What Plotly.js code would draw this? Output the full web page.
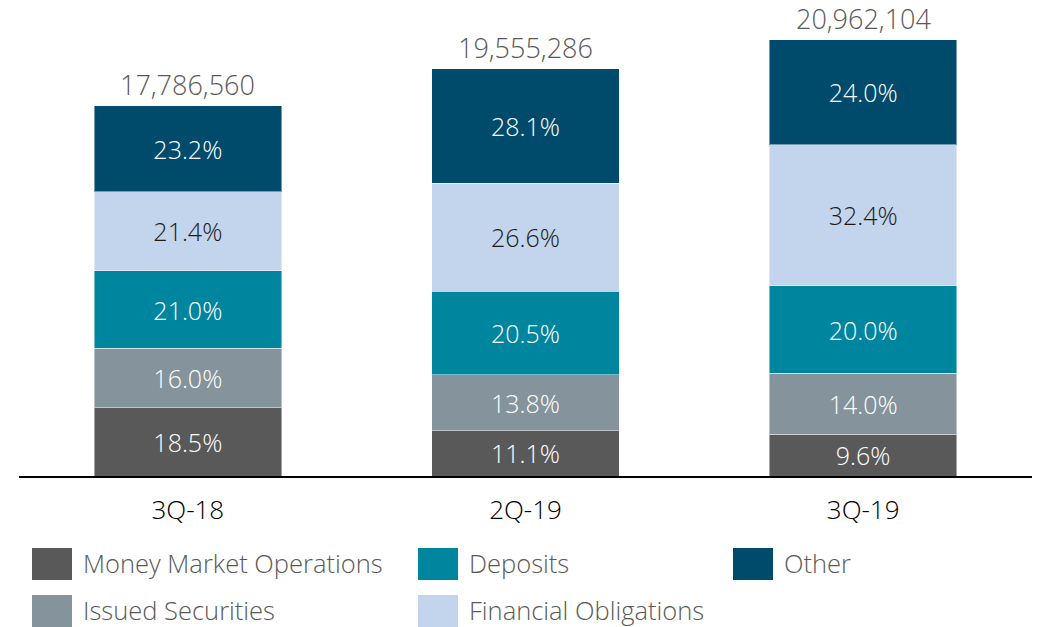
<!DOCTYPE html>
<html>
<head>
<meta charset="utf-8">
<script src="https://cdn.plot.ly/plotly-3.0.1.min.js"></script>
<style>
html,body{margin:0;padding:0;background:#fff;}
#chart{width:1043px;height:627px;}
</style>
</head>
<body>
<div id="chart"></div>
<script>
// ---- data ----
const periods = ["3Q-18", "2Q-19", "3Q-19"];
const totals = [17786560, 19555286, 20962104];
const seriesNames = ["Money Market Operations", "Issued Securities", "Deposits", "Financial Obligations", "Other"];
const moneyMarketPct = [18.5, 11.1, 9.6];
const issuedSecuritiesPct = [16.0, 13.8, 14.0];
const depositsPct = [21.0, 20.5, 20.0];
const financialObligationsPct = [21.4, 26.6, 32.4];
const otherPct = [23.2, 28.1, 24.0];

// ---- styles ----
const colors = ["#595959", "#84939C", "#00859F", "#C3D5EC", "#004B6B"];
const textColors = ["#ffffff", "#ffffff", "#ffffff", "#1a1a1a", "#ffffff"];
const FONT = "Open Sans, Noto Sans, sans-serif";
const W = 1043, H = 627;
const margin = {l: 19, r: 11, t: 0, b: 151};
const plotH = H - margin.t - margin.b;
const plotW = W - margin.l - margin.r;
const pxPerUnit = 20.80e-6;
const yMax = plotH / pxPerUnit;

const pctSeries = [moneyMarketPct, issuedSecuritiesPct, depositsPct, financialObligationsPct, otherPct];

const traces = pctSeries.map((pcts, i) => ({
  type: "bar",
  name: seriesNames[i],
  x: periods,
  y: pcts.map((p, j) => totals[j] * p / 100),
  text: pcts.map(p => p.toFixed(1) + "%"),
  textposition: "inside",
  insidetextanchor: "middle",
  textangle: 0,
  constraintext: "none",
  textfont: {family: FONT, size: 25, color: textColors[i], weight: 300},
  marker: {color: colors[i], line: {color: "rgba(255,255,255,0.45)", width: 1}},
  width: 0.555,
  hoverinfo: "skip",
  showlegend: false
}));

const annotations = periods.map((p, j) => ({
  x: p, y: totals[j], xref: "x", yref: "y",
  text: totals[j].toLocaleString("en-US"),
  showarrow: false, yanchor: "bottom", yshift: 2, borderpad: 0,
  font: {family: FONT, size: 27, color: "#595959", weight: 300}
}));

// manual legend (pixel layout -> paper coords)
const px2x = px => (px - margin.l) / plotW;
const px2y = py => (H - margin.b - py) / plotH;
const legendOrder = [0, 2, 4, 1, 3];
const colX = [32, 418, 733];
const rowY = [548, 595];
const shapes = [];
legendOrder.forEach((si, k) => {
  const c = k % 3, r = Math.floor(k / 3);
  const x0 = colX[c], y0 = rowY[r];
  shapes.push({type: "rect", xref: "paper", yref: "paper",
    x0: px2x(x0), x1: px2x(x0 + 40), y0: px2y(y0), y1: px2y(y0 + 32),
    fillcolor: colors[si], line: {width: 0}});
  annotations.push({xref: "paper", yref: "paper", x: px2x(x0 + 50), y: px2y(y0 + 15),
    xanchor: "left", yanchor: "middle", showarrow: false, text: seriesNames[si], borderpad: 0,
    font: {family: FONT, size: 25.5, color: "#595959", weight: 300}});
});

const layout = {
  width: W, height: H,
  margin: margin,
  paper_bgcolor: "#ffffff", plot_bgcolor: "#ffffff",
  barmode: "stack",
  showlegend: false,
  font: {family: FONT},
  xaxis: {
    type: "category", range: [-0.5, 2.5],
    showline: true, linecolor: "#000000", linewidth: 2,
    ticks: "", showgrid: false, zeroline: false,
    tickfont: {family: FONT, size: 26, color: "#000000", weight: 300},
    ticklabelstandoff: 10
  },
  yaxis: {range: [0, yMax], visible: false, showgrid: false, zeroline: false},
  annotations: annotations,
  shapes: shapes
};

Plotly.newPlot("chart", traces, layout, {staticPlot: true, displayModeBar: false});
</script>
</body>
</html>
